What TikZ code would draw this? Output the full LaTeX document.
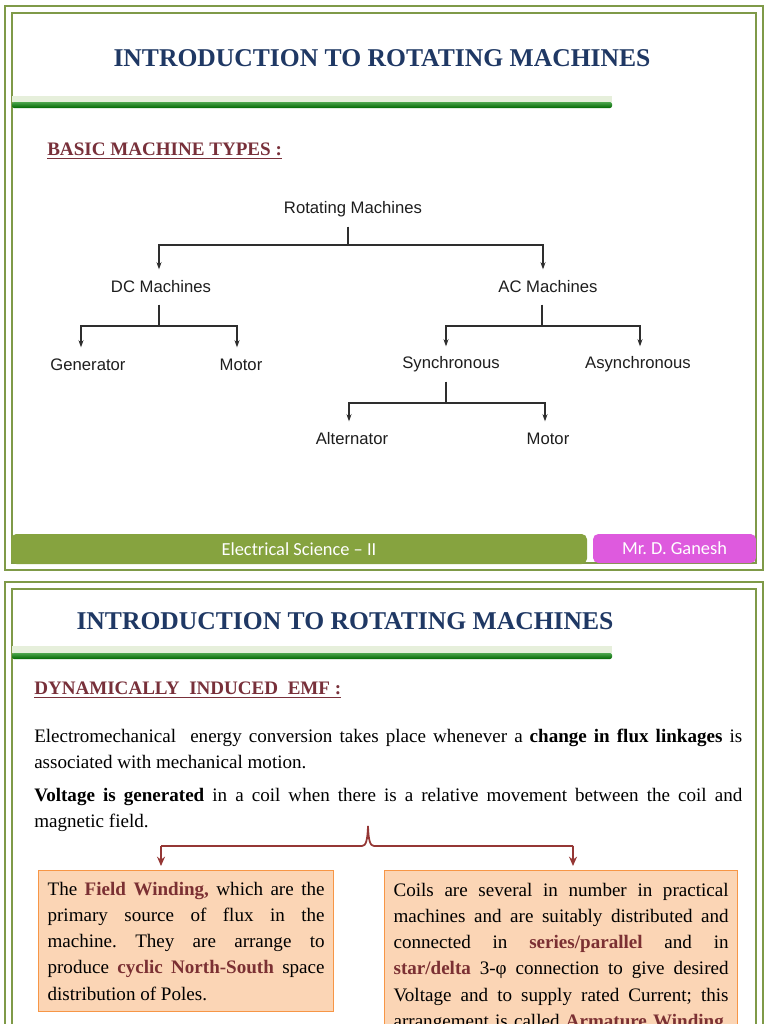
\documentclass[tikz,border=0pt]{standalone}
\usepackage{fontspec}
\setmainfont{Liberation Serif}
\newfontfamily\treefont{Liberation Sans}
\newfontfamily\footfont{Carlito}
\usetikzlibrary{arrows.meta}
\frenchspacing
\definecolor{framegreen}{HTML}{7F9A48}
\definecolor{footgreen}{HTML}{86A33F}
\definecolor{footpink}{HTML}{DE5ADE}
\definecolor{navy}{HTML}{1F3864}
\definecolor{headred}{HTML}{78303A}
\definecolor{boldred}{HTML}{7B3033}
\definecolor{bracered}{HTML}{953735}
\definecolor{boxfill}{HTML}{FBD5B5}
\definecolor{boxline}{HTML}{F79646}
\definecolor{hlight}{HTML}{E6EFDB}
\definecolor{treetext}{HTML}{1E1E1E}
\definecolor{treeline}{HTML}{2E2E2E}
\tikzset{
  frameline/.style={draw=framegreen, line width=1.6pt},
  titletext/.style={font=\bfseries\fontsize{19.2pt}{22pt}\selectfont, text=navy, inner sep=0pt},
  headtext/.style={font=\bfseries\fontsize{14.3pt}{17pt}\selectfont, text=headred, inner sep=0pt, anchor=west},
  bodytext/.style={font=\fontsize{14.3pt}{19.6pt}\selectfont, inner sep=0pt, anchor=north west, align=justify},
  tn/.style={font=\treefont\fontsize{12.5pt}{14pt}\selectfont, text=treetext, minimum height=26pt, inner sep=0pt},
  tline/.style={draw=treeline, line width=0.9pt},
  tarrow/.style={tline, -{Stealth[length=5.5pt,width=3.8pt]}},
  footbar/.style={rounded corners=4pt, inner sep=0pt, text=white, font=\footfont\fontsize{13.8pt}{16pt}\selectfont},
  infobox/.style={draw=boxline, fill=boxfill, line width=0.9pt, anchor=north west, align=justify, inner xsep=6.75pt, inner ysep=6pt, font=\fontsize{14.3pt}{19.7pt}\selectfont},
  bracepath/.style={draw=bracered, line width=1.3pt},
  bracearrow/.style={bracepath, -{Stealth[length=7pt,width=6pt]}}
}
\newcommand{\hl}[1]{\textbf{\textcolor{boldred}{#1}}}
\begin{document}
\begin{tikzpicture}[x=0.75pt,y=-0.75pt]
\useasboundingbox (0,0) rectangle (768,1024);
\clip (0,0) rectangle (768,1024);
\fill[white] (0,0) rectangle (768,1024);

% ---------- slide 1 ----------
\draw[frameline] (5,6) rectangle (763,570);
\draw[frameline] (12,13) rectangle (756,563);
\node[titletext] (t1) at (382,58) {INTRODUCTION TO ROTATING MACHINES};
\fill[hlight] (12,96) rectangle (612,102);
\shade[top color=green!50!black!70!white, bottom color=green!40!black, rounded corners=1.5pt] (12,102) rectangle (612,108);
\node[headtext] (h1) at (47,151) {\underline{BASIC MACHINE TYPES :}};

% tree
\node[tn] (rm) at (353,209) {Rotating Machines};
\node[tn] (dc) at (161,287) {DC Machines};
\node[tn] (ac) at (548,287) {AC Machines};
\node[tn] (gen) at (88,365) {Generator};
\node[tn] (mot1) at (241,365) {Motor};
\node[tn] (syn) at (451,364) {Synchronous};
\node[tn] (asy) at (638,364) {Asynchronous};
\node[tn] (alt) at (352,439) {Alternator};
\node[tn] (mot2) at (548,439) {Motor};
\coordinate (j1) at (348,245);
\coordinate (j2) at (159,326);
\coordinate (j3) at (542,326);
\coordinate (j4) at (446,403);
\draw[tline] (j1 |- rm.south) -- (j1);
\draw[tarrow] (j1) -| ([xshift=-1.5pt]dc.north);
\draw[tarrow] (j1) -| ([xshift=-3.75pt]ac.north);
\draw[tline] (j2 |- dc.south) -- (j2);
\draw[tarrow] (j2) -| ([xshift=-5.25pt]gen.north);
\draw[tarrow] (j2) -| ([xshift=-3pt]mot1.north);
\draw[tline] (j3 |- ac.south) -- (j3);
\draw[tarrow] (j3) -| ([xshift=-3.75pt]syn.north);
\draw[tarrow] (j3) -| ([xshift=1.5pt]asy.north);
\draw[tline] (j4 |- syn.south) -- (j4);
\draw[tarrow] (j4) -| ([xshift=-2.25pt]alt.north);
\draw[tarrow] (j4) -| ([xshift=-2.25pt]mot2.north);

% footer
\node[footbar, fill=footgreen, minimum width=432pt, minimum height=22.5pt] (fg) at (299,549) {Electrical Science – II};
\node[footbar, fill=footpink, minimum width=122.25pt, minimum height=21.75pt] (fp) at (674.5,548.5) {Mr. D. Ganesh};

% ---------- slide 2 ----------
\draw[frameline] (5,582) rectangle (763,1040);
\draw[frameline] (12,589) rectangle (756,1034);
\node[titletext] (t2) at (345,621) {INTRODUCTION TO ROTATING MACHINES};
\fill[hlight] (12,646) rectangle (612,653);
\shade[top color=green!50!black!70!white, bottom color=green!40!black, rounded corners=1.5pt] (12,653) rectangle (612,659);
\node[headtext] (h2) at (34,690) {\underline{DYNAMICALLY\ \ INDUCED\ \ EMF :}};

\node[bodytext, text width=531pt] (p1) at (34,729) {Electromechanical\ \ energy conversion takes place whenever a \textbf{change in flux linkages} is\linebreak associated with mechanical motion.};
\node[bodytext, text width=531pt] (p2) at (34,788) {\textbf{Voltage is generated} in a coil when there is a relative movement between the coil and\linebreak magnetic field.};

% boxes
\node[infobox, text width=207.75pt, minimum height=105.75pt] (lb) at (38,870) {The \hl{Field Winding,} which are the\linebreak primary source of flux in the\linebreak machine. They are arrange to\linebreak produce \hl{cyclic North-South} space\linebreak distribution of Poles.};
\node[infobox, text width=251.25pt, minimum height=130pt] (rb) at (384,870) {Coils are several in number in practical\linebreak machines and are suitably distributed and\linebreak connected in \hl{series/parallel} and in\linebreak \hl{star/delta} 3-φ connection to give desired\linebreak Voltage and to supply rated Current; this\linebreak arrangement is called \hl{Armature Winding}.\parfillskip=0pt\par};

% brace connector
\coordinate (bl) at (161,846);
\coordinate (br) at (573,846);
\coordinate (bt) at (368,826);
\draw[bracepath] (bl) -- (362,846) .. controls (366,846) and (367.5,840) .. (bt) .. controls (368.5,840) and (370,846) .. (374,846) -- (br);
\draw[bracearrow] (bl) -- ([yshift=3pt]bl |- lb.north);
\draw[bracearrow] (br) -- ([yshift=3pt]br |- rb.north);
\end{tikzpicture}
\end{document}
